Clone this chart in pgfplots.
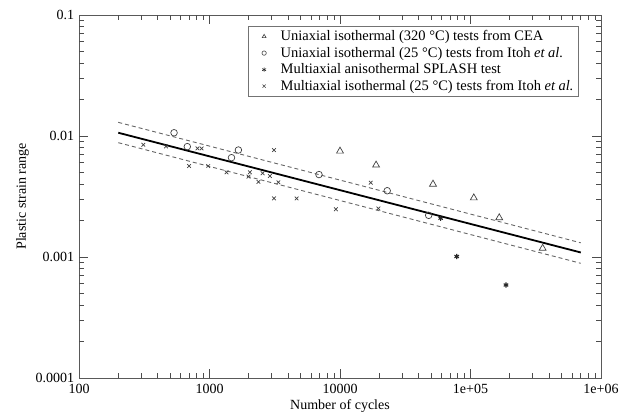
\documentclass[border=0pt]{standalone}
\usepackage{pgfplots}
\pgfplotsset{compat=1.18}
\usepackage{fontspec}
\setmainfont{Liberation Serif}

\pgfplotsset{
  myleg/.style={legend image code/.code={
    \draw[##1, mark size=2.2pt, line width=0.6pt] plot coordinates {(12pt,0pt)};
    \path (0pt,0pt) (26pt,0pt);}},
}
\tikzset{tk/.style={black!70, line width=1pt}}

\begin{document}
\fontsize{14}{17}\selectfont
\begin{tikzpicture}
\begin{axis}[
  at={(0pt,0pt)}, anchor=south west,
  scale only axis, width=522pt, height=363pt,
  xmode=log, ymode=log,
  xmin=100, xmax=1e6, ymin=1e-4, ymax=0.1,
  xtick={100,1000,10000,100000,1000000},
  xticklabels={100,1000,10000,1e+05,1e+06},
  ytick={0.0001,0.001,0.01,0.1},
  yticklabels={0.0001,0.001,0.01,0.1},
  tick label style={font=\fontsize{14}{17}\selectfont},
  xticklabel style={yshift=-1pt},
  tick align=inside,
  major tick length=9pt, minor tick length=5pt,
  axis line style={black!65, line width=0.9pt},
  tick style={black!70, line width=1pt},
  xlabel={Number of cycles},
  ylabel={Plastic strain range},
  label style={font=\fontsize{14}{17}\selectfont},
  every axis x label/.style={at={(axis description cs:0.5,0)}, anchor=center, yshift=-28pt},
  every axis y label/.style={at={(axis description cs:-0.108,0.5)}, anchor=center, rotate=90},
  legend style={at={(axis description cs:0.324,0.970)}, anchor=north west,
    draw=black!55, line width=0.9pt, font=\fontsize{14.5}{17}\selectfont,
    row sep=0.3pt, inner xsep=3pt, inner ysep=2pt},
  legend cell align=left,
]
% Uniaxial isothermal 320 C (CEA)
\addplot[only marks, mark=triangle, mark size=4pt, black!75, line width=0.7pt, myleg] coordinates {
  (10000,0.0075) (18900,0.00575) (51600,0.0040) (106000,0.00308) (166000,0.00211) (357000,0.00118)
};
\addlegendentry{Uniaxial isothermal (320 °C) tests from CEA}
% Uniaxial isothermal 25 C (Itoh)
\addplot[only marks, mark=o, mark size=3.3pt, black!75, line width=0.7pt, myleg] coordinates {
  (535,0.01064) (676,0.00817) (1665,0.00766) (1474,0.00662) (6900,0.0048) (23000,0.00353) (47800,0.00221)
};
\addlegendentry{Uniaxial isothermal (25 °C) tests from Itoh \textit{et al.}}
% SPLASH
\addplot[only marks, mark=asterisk, mark size=2.6pt, black!85, line width=1.1pt, myleg] coordinates {
  (59100,0.00209) (78400,0.00101) (187000,0.000587)
};
\addlegendentry{Multiaxial anisothermal SPLASH test}
% Multiaxial isothermal 25 C (Itoh)
\addplot[only marks, mark=x, mark size=2.6pt, black!75, line width=0.7pt, myleg] coordinates {
  (311,0.00847) (464,0.0082) (697,0.00565) (808,0.0079) (870,0.0079) (978,0.00565)
  (1350,0.00501) (2040,0.00501) (1990,0.00462) (2550,0.00492) (2900,0.00467)
  (2370,0.00418) (3370,0.00414) (3120,0.00766) (3120,0.00305) (4650,0.00305)
  (9300,0.00248) (17200,0.00411) (19700,0.00252)
};
\addlegendentry{Multiaxial isothermal (25 °C) tests from Itoh \textit{et al.}}
% fit and scatter band
\addplot[forget plot, black, line width=1.8pt] coordinates {(200,0.01064) (700000,0.00109)};
\addplot[forget plot, black!60, line width=0.9pt, dash pattern=on 4pt off 3pt] coordinates {(200,0.01297) (700000,0.00131)};
\addplot[forget plot, black!60, line width=0.9pt, dash pattern=on 4pt off 3pt] coordinates {(200,0.00881) (700000,0.000887)};
% tick marks on all four sides
\pgfplotsinvokeforeach{1000,10000,100000}{
  \draw[tk] (axis cs:#1,0.0001) -- ++(0pt,9pt);
  \draw[tk] (axis cs:#1,0.1) -- ++(0pt,-9pt);
}
\pgfplotsinvokeforeach{200,300,400,500,600,700,800,900,
    2000,3000,4000,5000,6000,7000,8000,9000,
    20000,30000,40000,50000,60000,70000,80000,90000,
    200000,300000,400000,500000,600000,700000,800000,900000}{
  \draw[tk] (axis cs:#1,0.0001) -- ++(0pt,5pt);
  \draw[tk] (axis cs:#1,0.1) -- ++(0pt,-5pt);
}
\pgfplotsinvokeforeach{0.001,0.01}{
  \draw[tk] (axis cs:100,#1) -- ++(9pt,0pt);
  \draw[tk] (axis cs:1000000,#1) -- ++(-9pt,0pt);
}
\pgfplotsinvokeforeach{0.0002,0.0003,0.0004,0.0005,0.0006,0.0007,0.0008,0.0009,
    0.002,0.003,0.004,0.005,0.006,0.007,0.008,0.009,
    0.02,0.03,0.04,0.05,0.06,0.07,0.08,0.09}{
  \draw[tk] (axis cs:100,#1) -- ++(5pt,0pt);
  \draw[tk] (axis cs:1000000,#1) -- ++(-5pt,0pt);
}
\end{axis}
\path (-79pt,-34pt) rectangle (553pt,378pt);
\end{tikzpicture}
\end{document}
